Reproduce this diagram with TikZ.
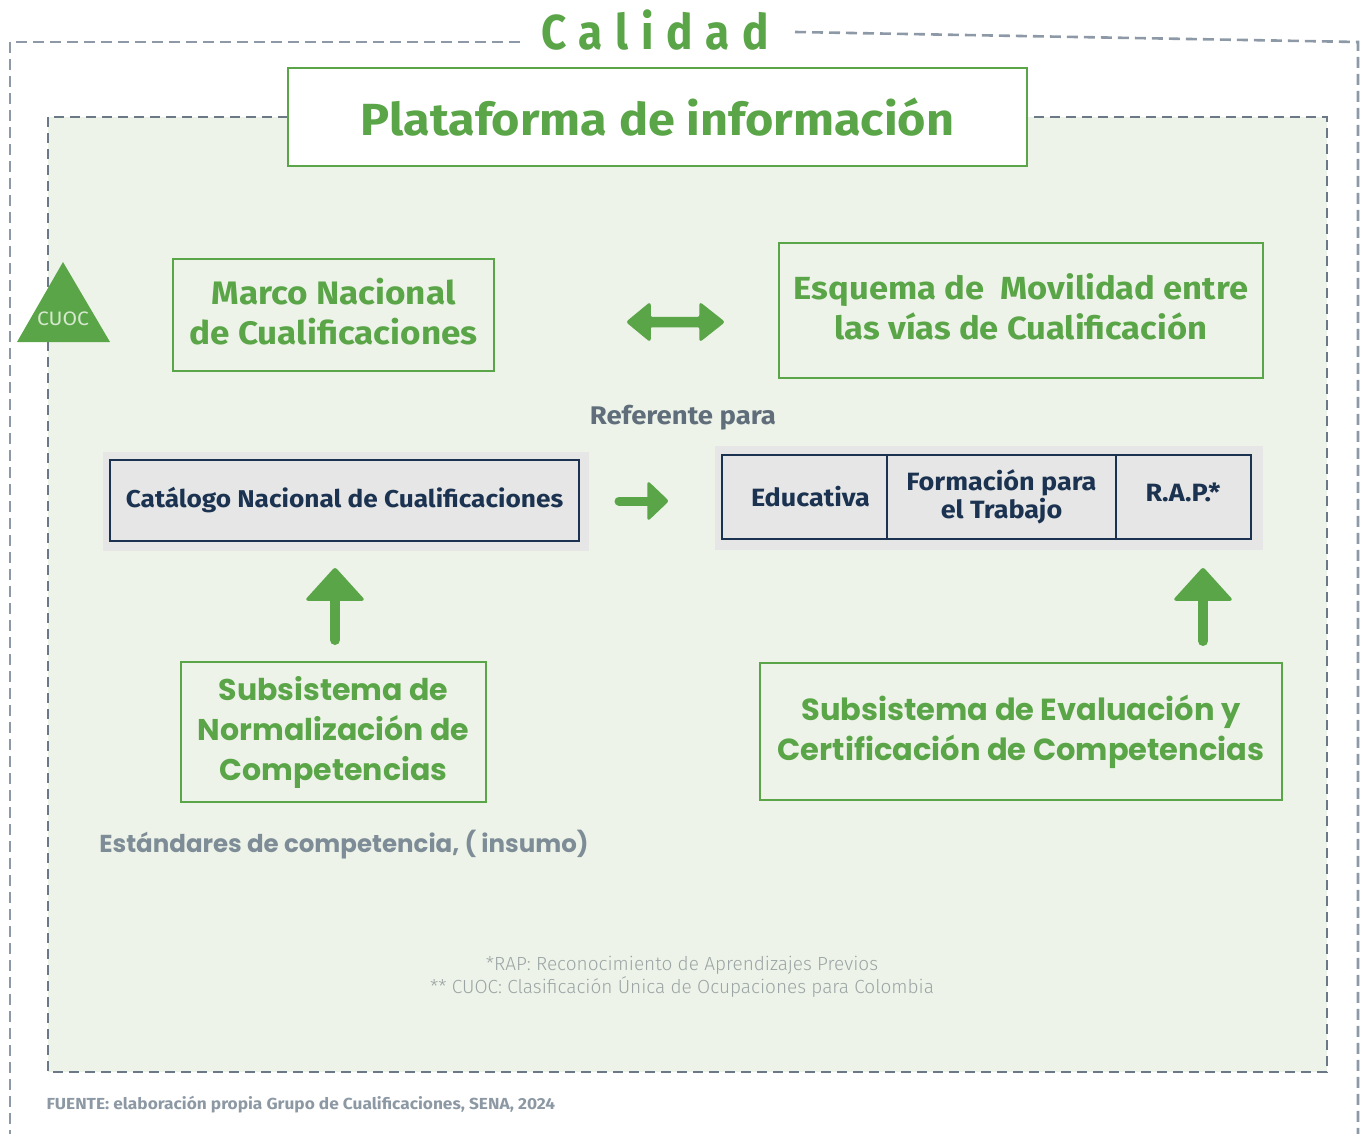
\documentclass[tikz,border=0pt]{standalone}
\usepackage{fontspec}
\setmainfont{Fira Sans}
\newfontfamily\condf[FakeStretch=1.08]{Fira Sans}
\newfontfamily\lightf{Fira Sans Light}
\newfontfamily\widef{Poppins}
\newfontfamily\calf[FakeStretch=0.9,LetterSpace=26]{Fira Sans}
\definecolor{gr}{HTML}{5AA547}
\definecolor{bgg}{HTML}{EDF3E8}
\definecolor{dashO}{HTML}{8D99A6}
\definecolor{dashI}{HTML}{6B7885}
\definecolor{navy}{HTML}{1B3350}
\definecolor{cellg}{HTML}{E6E6E6}
\definecolor{refg}{HTML}{5F6E7A}
\definecolor{estg}{HTML}{7D8C96}
\definecolor{noteg}{HTML}{9BA5A5}
\definecolor{fueg}{HTML}{8C98A3}
\definecolor{cuoct}{HTML}{D6E9D0}
\tikzset{
  gbox/.style={draw=gr, line width=1.6pt, fill=none, inner sep=0pt, align=center, text=gr},
  cell/.style={draw=navy, line width=2.4pt, fill=cellg, inner sep=0pt, align=center, text=navy},
  arrfill/.style={fill=gr, draw=gr, line width=1.5pt, line join=round, rounded corners=2pt},
  shaft/.style={draw=gr, line cap=round},
  celltext/.style={font=\condf\bfseries\fontsize{25}{28}\selectfont},
}
\begin{document}
\begin{tikzpicture}[x=1pt,y=-1pt]
\useasboundingbox (0,0) rectangle (1366,1134);
% outer dashed frame
\draw[dashO, line width=2.6pt, dash pattern=on 11pt off 6pt] (520,42) -- (10,42) -- (10,1134);
\draw[dashO, line width=2.6pt, dash pattern=on 11pt off 6pt] (795,32) -- (1358,42) -- (1358,1134);
\node[text=gr, font=\calf\bfseries\fontsize{49}{50}\selectfont, anchor=center] (cal) at (655,30) {Calidad};
% inner area
\fill[bgg] (48,117) rectangle (1327,1072);
\draw[dashI, line width=2.4pt, dash pattern=on 10pt off 6pt] (288,117) -- (48,117) -- (48,1072) -- (1327,1072) -- (1327,117) -- (1028,117);
% platform title
\node[gbox, fill=white, minimum width=739pt, minimum height=98pt, font=\condf\bfseries\fontsize{45}{50}\selectfont] (plat) at (657.5,117) {Plataforma de información};
% CUOC triangle
\fill[gr] (63,262) -- (110,342) -- (17,342) -- cycle;
\node[text=cuoct, font=\condf\fontsize{19.5}{20}\selectfont] (cuoc) at (63,319) {CUOC};
% Marco
\node[gbox, minimum width=321pt, minimum height=112pt] (marco) at (333.5,315) {};
\node[text=gr, align=center, font=\condf\bfseries\fontsize{32.5}{40}\selectfont] (marcot) at (333.5,312) {Marco Nacional\\de Cualificaciones};
% Esquema
\node[gbox, minimum width=484pt, minimum height=135pt] (esq) at (1021,310.5) {};
\node[text=gr, align=center, font=\condf\bfseries\fontsize{32}{40}\selectfont] (esqt) at (1021,307) {Esquema de\ \ Movilidad entre\\las vías de Cualificación};
% double arrow
\coordinate (dl) at (627,322);
\coordinate (dr) at (724,322);
\fill[arrfill] (dl) -- (650,303) -- (650,317.5) -- (700,317.5) -- (700,303) -- (dr) -- (700,341) -- (700,326.5) -- (650,326.5) -- (650,341) -- cycle;
% Referente para
\node[text=refg, font=\condf\bfseries\fontsize{25.5}{30}\selectfont] (ref) at (683,418) {Referente para};
% Catalogo
\fill[cellg] (103,452) rectangle (589,551);
\node[cell, minimum width=469pt, minimum height=81pt, font=\condf\bfseries\fontsize{24.3}{28}\selectfont] (cat) at (344.5,500.5) {Catálogo Nacional de Cualificaciones};
% right arrow
\coordinate (rs) at (619,501);
\coordinate (rt) at (668,501);
\draw[shaft, line width=9pt] (rs) -- (648,501);
\fill[arrfill] (rt) -- (648,482) -- (648,520) -- cycle;
% table
\fill[cellg] (715,446) rectangle (1263,550);
\node[cell, minimum width=165pt, minimum height=84pt, celltext] (edu) at (804.5,497) {\hspace*{12pt}Educativa};
\node[cell, minimum width=229pt, minimum height=84pt, celltext] (form) at (1001.5,497) {Formación para\\el Trabajo};
\node[cell, minimum width=135pt, minimum height=84pt] (rap) at (1183.5,497) {};
\node[text=navy, celltext] (rapt) at (1183,492) {R.A.P.*};
% up arrows
\coordinate (ua1) at (335,568);
\draw[shaft, line width=10pt] (335,640) -- (335,598);
\fill[arrfill] (ua1) -- (364,600) -- (306,600) -- cycle;
\coordinate (ua2) at (1203,568);
\draw[shaft, line width=10pt] (1203,641) -- (1203,598);
\fill[arrfill] (ua2) -- (1232,600) -- (1174,600) -- cycle;
% Subsistemas
\node[gbox, minimum width=305pt, minimum height=140pt, font=\widef\bfseries\fontsize{30}{40}\selectfont] (norm) at (333.5,732) {Subsistema de\\Normalización de\\Competencias};
\node[gbox, minimum width=522pt, minimum height=137pt, font=\widef\bfseries\fontsize{30.5}{40}\selectfont] (eval) at (1021,731.5) {Subsistema de Evaluación y\\Certificación de Competencias};
% Estandares
\node[text=estg, font=\widef\bfseries\fontsize{24.5}{28}\selectfont] (est) at (344,845) {Estándares de competencia, ( insumo)};
% notes
\node[text=noteg, align=center, font=\lightf\fontsize{19}{23}\selectfont] (notes) at (682,977) {*RAP: Reconocimiento de Aprendizajes Previos\\** CUOC: Clasificación Única de Ocupaciones para Colombia};
\node[text=fueg, anchor=west, font=\condf\bfseries\fontsize{16}{16}\selectfont] (fue) at (43,1105) {FUENTE: elaboración propia Grupo de Cualificaciones, SENA, 2024};
\end{tikzpicture}
\end{document}
